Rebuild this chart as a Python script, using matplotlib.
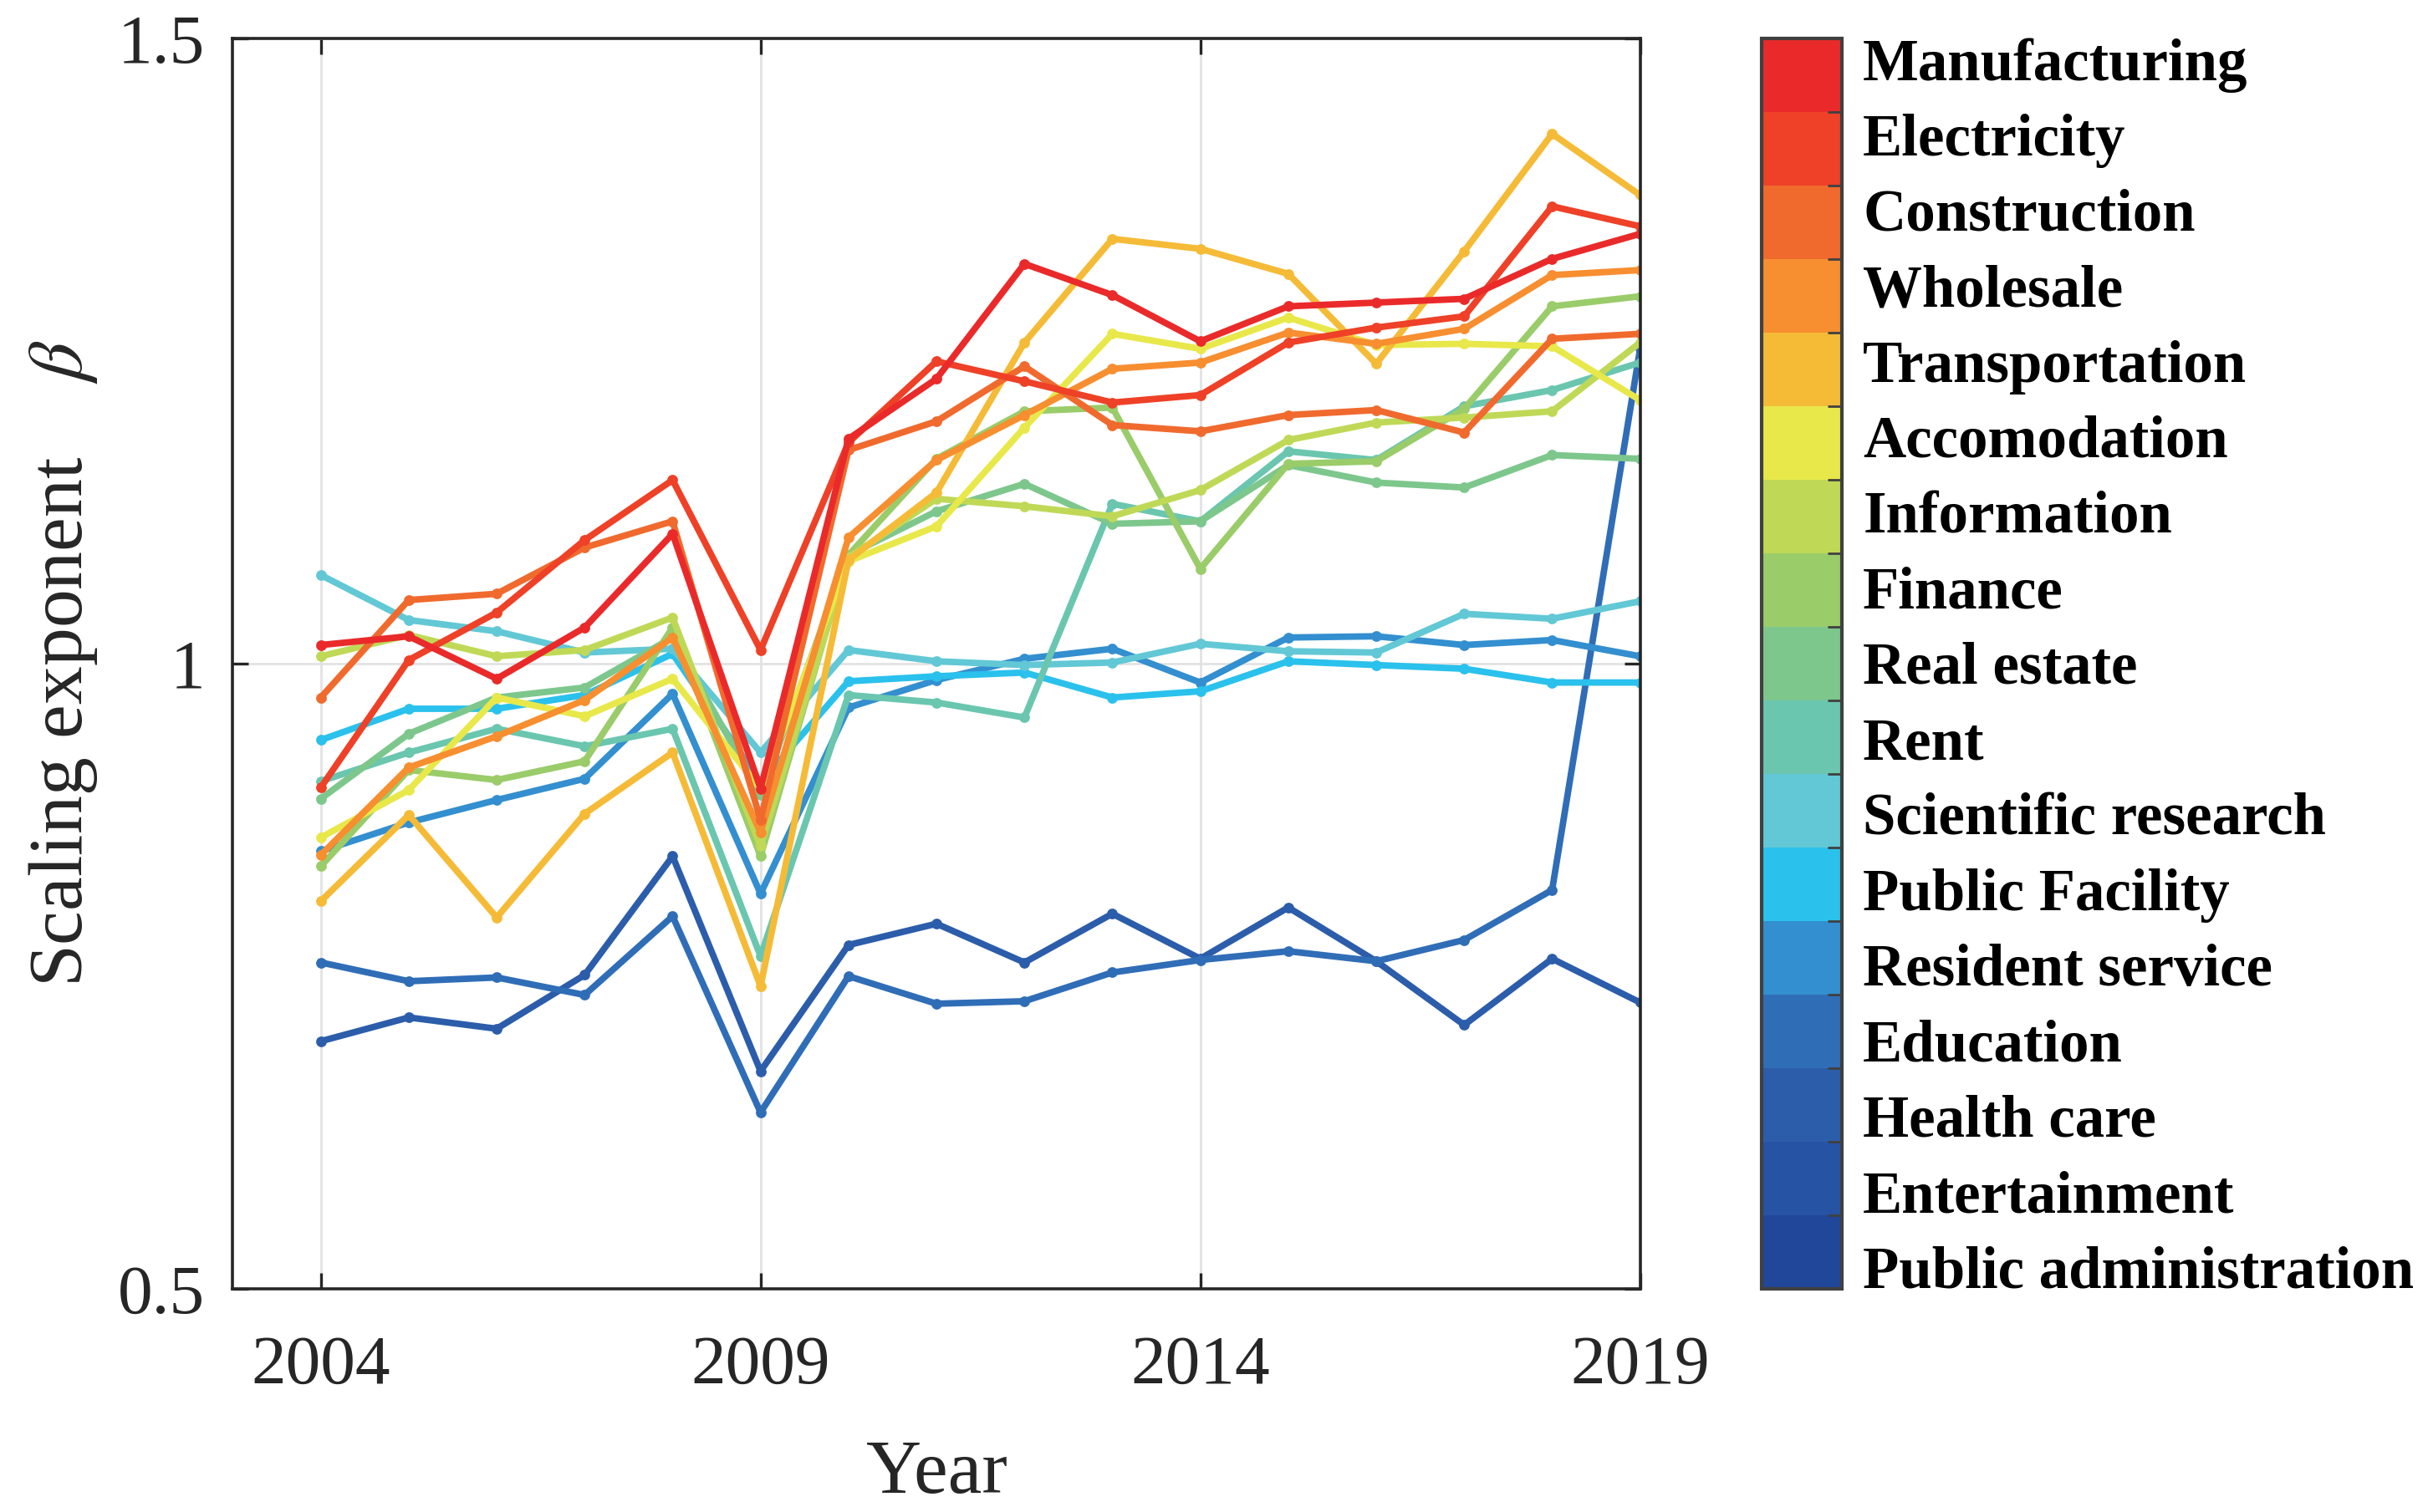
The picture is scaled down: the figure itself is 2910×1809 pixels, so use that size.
import matplotlib
matplotlib.use('Agg')
import matplotlib.pyplot as plt
import matplotlib.cm as cm
import numpy as np
from matplotlib.colors import ListedColormap, BoundaryNorm

plt.rcParams['font.family'] = ['Liberation Serif', 'DejaVu Serif']
plt.rcParams['mathtext.fontset'] = 'stix'

# data (scaling exponent beta per year)
years = np.arange(2004, 2020)

manufacturing = [1.015, 1.022, 0.988, 1.029, 1.104, 0.900, 1.180, 1.228, 1.320, 1.295, 1.258, 1.286, 1.289, 1.292, 1.324, 1.344]
electricity = [0.901, 1.003, 1.041, 1.099, 1.147, 1.011, 1.177, 1.242, 1.226, 1.209, 1.215, 1.257, 1.269, 1.278, 1.366, 1.350]
construction = [0.973, 1.051, 1.056, 1.093, 1.114, 0.875, 1.171, 1.194, 1.238, 1.191, 1.186, 1.199, 1.203, 1.185, 1.260, 1.264]
wholesale = [0.847, 0.917, 0.942, 0.971, 1.021, 0.865, 1.101, 1.163, 1.199, 1.236, 1.241, 1.265, 1.256, 1.268, 1.311, 1.315]
transportation = [0.810, 0.879, 0.797, 0.880, 0.929, 0.742, 1.083, 1.137, 1.257, 1.340, 1.332, 1.312, 1.240, 1.330, 1.424, 1.375]
accomodation = [0.861, 0.899, 0.973, 0.958, 0.988, 0.900, 1.082, 1.110, 1.189, 1.264, 1.252, 1.277, 1.255, 1.256, 1.254, 1.211]
information = [1.006, 1.023, 1.006, 1.011, 1.037, 0.854, 1.085, 1.132, 1.126, 1.118, 1.139, 1.179, 1.193, 1.197, 1.202, 1.257]
finance = [0.838, 0.915, 0.907, 0.922, 1.029, 0.846, 1.087, 1.164, 1.202, 1.205, 1.076, 1.160, 1.162, 1.204, 1.286, 1.294]
real_estate = [0.892, 0.944, 0.973, 0.981, 1.021, 0.895, 1.087, 1.122, 1.144, 1.112, 1.114, 1.159, 1.145, 1.141, 1.167, 1.164]
rent = [0.906, 0.929, 0.948, 0.934, 0.948, 0.766, 0.975, 0.969, 0.957, 1.128, 1.114, 1.170, 1.163, 1.206, 1.219, 1.241]
scientific = [1.071, 1.035, 1.026, 1.009, 1.012, 0.929, 1.011, 1.002, 0.999, 1.001, 1.016, 1.010, 1.009, 1.040, 1.036, 1.050]
public_facility = [0.939, 0.964, 0.964, 0.975, 1.008, 0.905, 0.986, 0.990, 0.993, 0.973, 0.978, 1.002, 0.999, 0.996, 0.985, 0.985]
resident = [0.850, 0.873, 0.891, 0.908, 0.976, 0.816, 0.965, 0.987, 1.004, 1.012, 0.985, 1.021, 1.022, 1.015, 1.019, 1.006]
education = [0.761, 0.746, 0.749, 0.735, 0.798, 0.641, 0.750, 0.728, 0.730, 0.753, 0.763, 0.770, 0.762, 0.779, 0.819, 1.252]
health = [0.698, 0.717, 0.708, 0.751, 0.846, 0.674, 0.775, 0.792, 0.761, 0.800, 0.764, 0.805, 0.762, 0.711, 0.764, 0.729]

sectors = ['Manufacturing', 'Electricity', 'Construction', 'Wholesale', 'Transportation',
           'Accomodation', 'Information', 'Finance', 'Real estate', 'Rent',
           'Scientific research', 'Public Facility', 'Resident service', 'Education',
           'Health care', 'Entertainment', 'Public administration']
colors = ['#EA2A2A', '#EE4127', '#F06A2E', '#F78E30', '#F5BB37', '#E8E84A', '#BFD957',
          '#9ACC6A', '#7DC78C', '#6AC6AF', '#62C8D5', '#2AC1EC', '#338FCF', '#306DB7',
          '#2C5DAA', '#2753A5', '#21479B']

series = [manufacturing, electricity, construction, wholesale, transportation,
          accomodation, information, finance, real_estate, rent, scientific,
          public_facility, resident, education, health]

fig = plt.figure(figsize=(14.55, 9.045), dpi=200)
ax = fig.add_axes([0.0957, 0.1477, 0.5784, 0.8266])

gray = '#262626'
for i in range(len(series) - 1, -1, -1):
    ax.plot(years, series[i], color=colors[i], lw=2.8, marker='o', ms=3.6,
            solid_joinstyle='round')

ax.set_xlim(2003, 2019)
ax.set_ylim(0.5, 1.5)
ax.set_xticks([2004, 2009, 2014, 2019])
ax.set_yticks([0.5, 1.0, 1.5])
ax.set_yticklabels(['0.5', '1', '1.5'])
ax.grid(True, color='#E2E2E2', lw=1.0)
ax.set_axisbelow(True)
ax.tick_params(direction='in', length=7, width=1.2, top=True, right=True,
               labelsize=30, colors=gray, pad=12)
ax.tick_params(axis='x', pad=20)
for s in ax.spines.values():
    s.set_color(gray)
    s.set_linewidth(1.3)
ax.set_xlabel('Year', fontsize=33, color=gray, labelpad=18)
ax.set_ylabel('Scaling exponent    $\\it{\\beta}$', fontsize=33, color=gray, labelpad=8)

# discrete colour bar used as legend
cax = fig.add_axes([0.7239, 0.1477, 0.0332, 0.8266])
n = len(sectors)
cmap = ListedColormap(colors[::-1])
bounds = np.arange(n + 1)
norm = BoundaryNorm(bounds, n)
cb = fig.colorbar(cm.ScalarMappable(norm=norm, cmap=cmap), cax=cax)
label_pos = np.linspace(0.3, n - 0.27, n)
cb.ax.set_yticks(label_pos)
cb.ax.set_yticklabels(sectors[::-1], fontsize=25.5, fontweight='bold', color='black')
cb.ax.tick_params(which='major', length=0, pad=9)
cb.ax.set_yticks(bounds[1:-1], minor=True)
cb.ax.tick_params(which='minor', direction='in', length=6, width=1.0, color='#404040', right=True)
cb.outline.set_edgecolor('#404040')
cb.outline.set_linewidth(1.5)

fig.savefig('out.png', dpi=200)
